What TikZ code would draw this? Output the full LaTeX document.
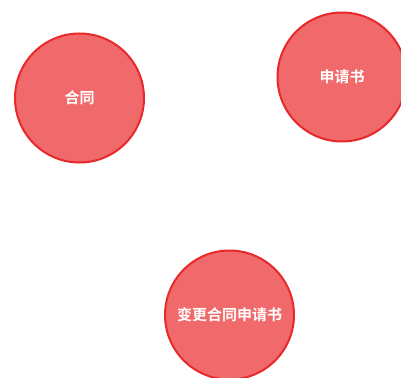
\documentclass[tikz,border=0pt]{standalone}
\usepackage{fontspec}
\newfontfamily\cjk{Noto Sans CJK SC}[BoldFont={* Bold}]
\definecolor{cfill}{HTML}{F06A6B}
\definecolor{cline}{HTML}{E8292B}
\begin{document}
\begin{tikzpicture}[x=1pt,y=-1pt,
  bubble/.style={circle,draw=cline,fill=cfill,line width=2pt,minimum size=129pt,inner sep=0pt,
    text=white,font=\cjk\bfseries\fontsize{15}{17}\selectfont}]
\useasboundingbox (0,0) rectangle (401,377);
\node[bubble] (a) at (79.5,98) {合同};
\node[bubble] (b) at (342,77) {申请书};
\node[bubble] (c) at (229.5,315) {变更合同申请书};
\end{tikzpicture}
\end{document}
